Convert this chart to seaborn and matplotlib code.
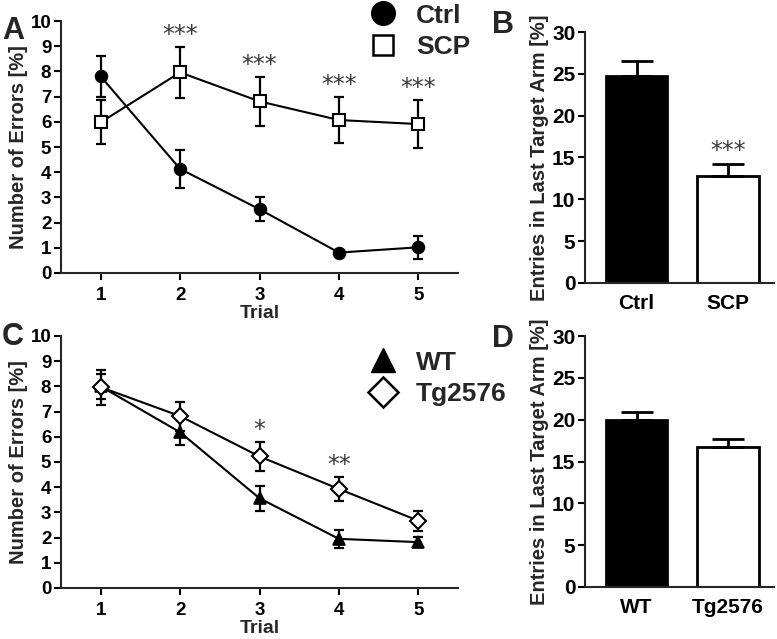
import numpy as np
import pandas as pd
import seaborn as sns
import matplotlib.pyplot as plt
from matplotlib.lines import Line2D

# ---- data ----
trials = [1, 2, 3, 4, 5]
ctrl_err_mean = [7.8, 4.13, 2.53, 0.81, 1.02]
ctrl_err_sem = [0.8, 0.75, 0.47, 0.08, 0.46]
scp_err_mean = [5.98, 7.96, 6.81, 6.07, 5.91]
scp_err_sem = [0.88, 1.0, 0.98, 0.93, 0.95]
stars_ab = ['', '***', '***', '***', '***']

wt_err_mean = [8.0, 6.18, 3.56, 1.95, 1.82]
wt_err_sem = [0.5, 0.52, 0.5, 0.37, 0.2]
tg_err_mean = [7.97, 6.82, 5.22, 3.93, 2.67]
tg_err_sem = [0.7, 0.58, 0.56, 0.48, 0.4]
stars_cd = ['', '', '*', '**', '']

groups_b = ['Ctrl', 'SCP']
entries_b = [24.8, 12.8]
entries_b_sem = [1.75, 1.4]
stars_b = ['', '***']

groups_d = ['WT', 'Tg2576']
entries_d = [19.95, 16.75]
entries_d_sem = [0.92, 0.95]

sns.set_style('ticks')
plt.rcParams['font.family'] = ['Liberation Sans', 'DejaVu Sans']
plt.rcParams['font.weight'] = 'bold'
plt.rcParams['axes.linewidth'] = 1.5

fig = plt.figure(figsize=(7.77, 6.39), dpi=100)
W, H = 777.0, 639.0


def axes_px(left, top, right, bottom):
    return fig.add_axes([left / W, 1 - bottom / H, (right - left) / W, (bottom - top) / H])


def style_axes(ax, tick_size):
    sns.despine(ax=ax)
    ax.tick_params(axis='both', direction='out', length=5, width=1.5,
                   labelsize=tick_size, colors='black', pad=2)
    for lab in ax.get_xticklabels() + ax.get_yticklabels():
        lab.set_fontweight('bold')


def add_stars(ax, x, y, st):
    ax.text(x, y, st, ha='center', va='bottom', fontsize=17,
            color='#3a3a3a', fontweight='normal', family='DejaVu Sans')


def line_panel(ax, m1, s1, m2, s2, mk1, mk2, ms1, ms2, stars):
    df = pd.DataFrame({'Trial': trials * 2,
                       'val': m1 + m2,
                       'grp': ['g1'] * 5 + ['g2'] * 5})
    for m, s in [(m1, s1), (m2, s2)]:
        ax.errorbar(trials, m, yerr=s, fmt='none', ecolor='black',
                    elinewidth=1.6, capsize=3.5, capthick=1.6, zorder=2)
    sns.lineplot(data=df[df.grp == 'g1'], x='Trial', y='val', ax=ax, color='black',
                 lw=1.5, marker=mk1, markersize=ms1, markerfacecolor='black',
                 markeredgecolor='black', markeredgewidth=1.2, zorder=3)
    sns.lineplot(data=df[df.grp == 'g2'], x='Trial', y='val', ax=ax, color='black',
                 lw=1.5, marker=mk2, markersize=ms2, markerfacecolor='white',
                 markeredgecolor='black', markeredgewidth=1.5, zorder=4)
    for t, m, s, st in zip(trials, m2, s2, stars):
        if st:
            add_stars(ax, t, m + s, st)
    ax.set_xlim(0.5, 5.5)
    ax.set_ylim(0, 10)
    ax.set_xticks(trials)
    ax.set_yticks(range(0, 11))
    ax.set_xlabel('Trial', fontsize=14, fontweight='bold', labelpad=1)
    ax.set_ylabel('Number of Errors [%]', fontsize=14.5, fontweight='bold', labelpad=2)
    style_axes(ax, 13.5)
    ax.tick_params(axis='x', pad=5)


def bar_panel(ax, groups, vals, sems, stars=None):
    df = pd.DataFrame({'grp': groups, 'val': vals})
    sns.barplot(data=df, x='grp', y='val', hue='grp', palette=['black', 'white'],
                edgecolor='black', linewidth=2, width=0.67, legend=False, ax=ax,
                errorbar=None)
    ax.errorbar([0, 1], vals, yerr=[[0, 0], sems], fmt='none', ecolor='black',
                elinewidth=2, capsize=11.5, capthick=2, zorder=1)
    if stars:
        for i, (v, s, st) in enumerate(zip(vals, sems, stars)):
            if st:
                add_stars(ax, i, v + s + 0.2, st)
    ax.set_xlim(-0.563, 1.503)
    ax.set_ylim(0, 30)
    ax.set_yticks(range(0, 31, 5))
    ax.set_xlabel('')
    ax.set_ylabel('Entries in Last Target Arm [%]', fontsize=14.5, fontweight='bold',
                  labelpad=2)
    style_axes(ax, 15)
    ax.tick_params(axis='x', length=0, pad=8)


# ---- panel A ----
axA = axes_px(61, 21, 458, 273)
line_panel(axA, ctrl_err_mean, ctrl_err_sem, scp_err_mean, scp_err_sem,
           'o', 's', 8.5, 9, stars_ab)
hA = [Line2D([], [], ls='none', marker='o', ms=17, mfc='black', mec='black'),
      Line2D([], [], ls='none', marker='s', ms=14, mfc='white', mec='black', mew=1.8)]
axA.legend(hA, ['Ctrl', 'SCP'], loc='upper left', bbox_to_anchor=(346 / W, 1 - (-7) / H),
           bbox_transform=fig.transFigure, frameon=False, prop={'size': 19, 'weight': 'bold'},
           handletextpad=0.25, labelspacing=0.3, borderaxespad=0)

# ---- panel B ----
axB = axes_px(585, 32, 774, 283)
bar_panel(axB, groups_b, entries_b, entries_b_sem, stars_b)

# ---- panel C ----
axC = axes_px(61, 336, 458, 588)
line_panel(axC, wt_err_mean, wt_err_sem, tg_err_mean, tg_err_sem,
           '^', 'D', 8.5, 8, stars_cd)
hC = [Line2D([], [], ls='none', marker='^', ms=17, mfc='black', mec='black'),
      Line2D([], [], ls='none', marker='D', ms=15, mfc='white', mec='black', mew=1.8)]
axC.legend(hC, ['WT', 'Tg2576'], loc='upper left', bbox_to_anchor=(346 / W, 1 - 340 / H),
           bbox_transform=fig.transFigure, frameon=False, prop={'size': 19, 'weight': 'bold'},
           handletextpad=0.25, labelspacing=0.3, borderaxespad=0)

# ---- panel D ----
axD = axes_px(585, 336, 774, 587)
bar_panel(axD, groups_d, entries_d, entries_d_sem)

for lbl, x, y in [('A', 2, 39), ('B', 492, 33), ('C', 2, 345), ('D', 492, 347)]:
    fig.text(x / W, 1 - y / H, lbl, fontsize=22, fontweight='bold', va='baseline', ha='left')

fig.savefig('out.png', dpi=100)
